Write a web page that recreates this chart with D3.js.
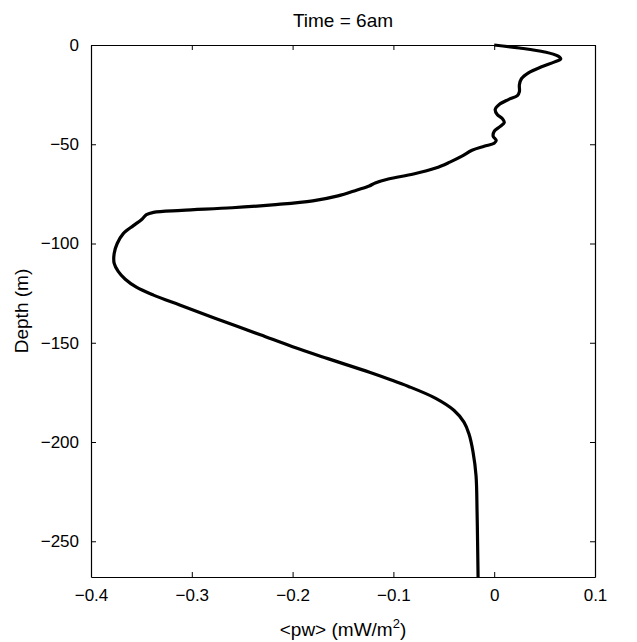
<!DOCTYPE html>
<html>
<head>
<meta charset="utf-8">
<script src="https://cdn.jsdelivr.net/npm/d3@7"></script>
<style>
  body { margin: 0; background: #fff; }
  svg { font-family: "Liberation Sans", Arial, sans-serif; }
</style>
</head>
<body>
<svg id="chart" width="637" height="642"></svg>
<script>
// depth profile of <pw> at 6am
const depth = [0, -1.5, -3.5, -5.5, -7, -8.5, -11, -14, -17, -20, -23.5, -25.5, -27.5, -30, -32.5,
  -35, -37, -39, -41, -43.5, -46, -48, -49.5, -51, -53, -56, -59, -62, -65, -67.5, -69.5, -71,
  -73, -76, -78.5, -80.5, -82, -83.3, -84.3, -85.5, -88, -91, -95, -100, -105, -110, -114, -118,
  -122, -126, -131, -138, -146, -152, -158, -165, -172, -178, -184, -190, -196, -205, -217, -235,
  -250, -268];
const pw = [0, 0.025, 0.05, 0.063, 0.066, 0.06, 0.047, 0.034, 0.027, 0.025, 0.025, 0.023, 0.014, 0.005, 0.001,
  0.003, 0.008, 0.010, 0.006, 0.0, -0.001, 0.002, 0.0, -0.01, -0.022, -0.032, -0.044, -0.058, -0.08, -0.105, -0.118, -0.124,
  -0.136, -0.155, -0.18, -0.22, -0.26, -0.31, -0.338, -0.345, -0.35, -0.358, -0.368, -0.374, -0.377, -0.377, -0.373, -0.366,
  -0.355, -0.338, -0.312, -0.275, -0.232, -0.2, -0.165, -0.123, -0.085, -0.058, -0.04, -0.03, -0.025, -0.021, -0.018, -0.017,
  -0.0165, -0.016];

const xTicks = [-0.4, -0.3, -0.2, -0.1, 0, 0.1];
const yTicks = [0, -50, -100, -150, -200, -250];

const margin = {top: 45, right: 42, bottom: 65, left: 91};
const width = 637, height = 642;

const svg = d3.select("#chart");

let x = d3.scaleLinear().domain([-0.4, 0.1]).range([margin.left, width - margin.right]);
let y = d3.scaleLinear().domain([-268, 0]).range([height - margin.bottom, margin.top]);

const fmt = d => d === 0 ? "0" : d3.format("")(d).replace("-", "\u2212");

// box + ticks (matlab style, ticks inside)
svg.append("g")
    .attr("transform", "translate(0," + (height - margin.bottom) + ")")
    .call(d3.axisBottom(x).tickValues(xTicks).tickSizeInner(-5).tickSizeOuter(0).tickPadding(12).tickFormat(fmt));
svg.append("g")
    .attr("transform", "translate(0," + margin.top + ")")
    .call(d3.axisTop(x).tickValues(xTicks).tickSizeInner(-5).tickSizeOuter(0).tickFormat(""));
svg.append("g")
    .attr("transform", "translate(" + margin.left + ",0)")
    .call(d3.axisLeft(y).tickValues(yTicks).tickSizeInner(-5).tickSizeOuter(0).tickPadding(12).tickFormat(fmt));
svg.append("g")
    .attr("transform", "translate(" + (width - margin.right) + ",0)")
    .call(d3.axisRight(y).tickValues(yTicks).tickSizeInner(-5).tickSizeOuter(0).tickFormat(""));

svg.selectAll(".domain").attr("stroke", "#000").attr("stroke-width", 1.2);
svg.selectAll(".tick line").attr("stroke", "#000");
svg.selectAll(".tick text").attr("fill", "#000").style("font-size", "17px")
    .style("font-family", "'Liberation Sans', Arial, sans-serif");

let line = d3.line()
    .x((d, i) => x(pw[i]))
    .y((d, i) => y(depth[i]))
    .curve(d3.curveCatmullRom.alpha(0.5));

svg.append("path")
    .datum(depth)
    .attr("d", line)
    .attr("fill", "none")
    .attr("stroke", "#000")
    .attr("stroke-width", 3.2)
    .attr("stroke-linejoin", "round");

// titles
svg.append("text")
    .attr("x", (margin.left + width - margin.right) / 2)
    .attr("y", 27)
    .attr("text-anchor", "middle")
    .style("font-size", "19px")
    .text("Time = 6am");

let xl = svg.append("text")
    .attr("x", (margin.left + width - margin.right) / 2)
    .attr("y", 636)
    .attr("text-anchor", "middle")
    .style("font-size", "19px");
xl.append("tspan").text("<pw> (mW/m");
xl.append("tspan").attr("dy", -8).style("font-size", "13px").text("2");
xl.append("tspan").attr("dy", 8).text(")");

svg.append("text")
    .attr("transform", "translate(28," + ((margin.top + height - margin.bottom) / 2) + ") rotate(-90)")
    .attr("text-anchor", "middle")
    .style("font-size", "19px")
    .text("Depth (m)");
</script>
</body>
</html>
